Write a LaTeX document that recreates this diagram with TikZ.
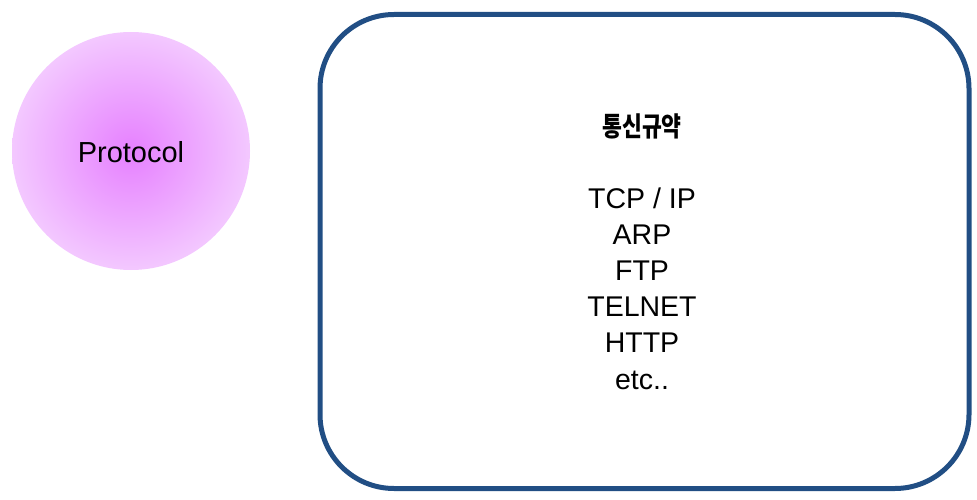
\documentclass[tikz,border=0pt]{standalone}
\usepackage{fontspec}
\setmainfont{Liberation Sans}
\newfontfamily\krfont[FakeStretch=0.8]{Noto Sans CJK KR}
\definecolor{frameblue}{RGB}{33,78,132}
\definecolor{orchidin}{RGB}{230,128,255}
\definecolor{orchidout}{RGB}{243,200,255}
\usetikzlibrary{positioning}

\begin{document}
\begin{tikzpicture}[
  x=1pt, y=-1pt,
  ball/.style={circle, minimum size=238pt, inner sep=0pt, inner color=orchidin, outer color=orchidout},
  frame/.style={draw=frameblue, line width=5pt, rounded corners=74pt, minimum width=649pt, minimum height=474pt},
  title/.style={font=\krfont\bfseries\fontsize{27}{31}\selectfont, anchor=base, inner sep=0pt},
  item/.style={font=\fontsize{28.5}{34}\selectfont, anchor=base, inner sep=0pt},
]
\useasboundingbox (0,0) rectangle (977,500);

\node[ball] (proto) at (131,151) {};
\node[font=\fontsize{29}{34}\selectfont, anchor=base, inner sep=0pt] (plabel) at (131,162.5) {Protocol};

\node[frame] (box) at (644.5,251.5) {};
\node[title] (head) at (642,136) {통신규약};
\foreach \t [count=\i] in {TCP / IP, ARP, FTP, TELNET, HTTP, etc..}
  \node[item] (p\i) at (642,208+36.2*\i-36.2) {\t};
\end{tikzpicture}
\end{document}
